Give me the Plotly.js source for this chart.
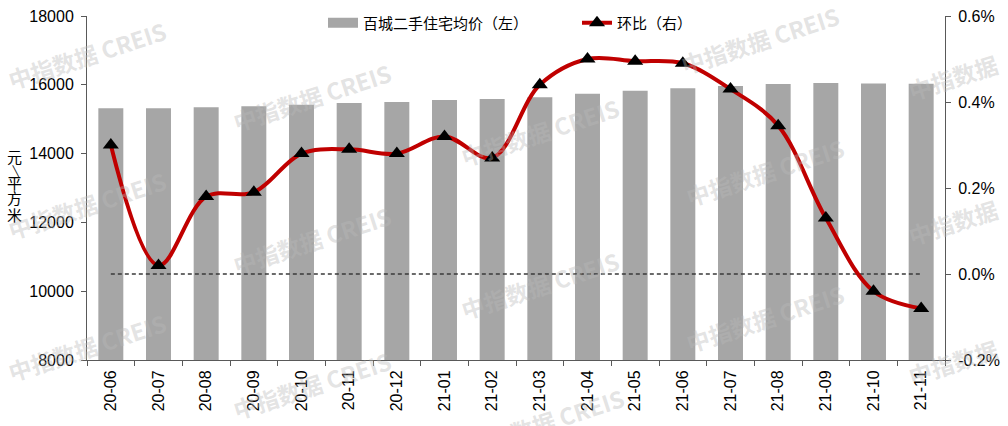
<!DOCTYPE html>
<html>
<head>
<meta charset="utf-8">
<script src="https://cdn.plot.ly/plotly-3.0.1.min.js"></script>
<style>html,body{margin:0;padding:0;background:#fff;}#chart{width:1008px;height:426px;}</style>
</head>
<body>
<div id="chart"></div>
<script>
// ---- data ----
var categories = ['20-06','20-07','20-08','20-09','20-10','20-11','20-12','21-01','21-02','21-03','21-04','21-05','21-06','21-07','21-08','21-09','21-10','21-11'];
var avgPrice = [15320,15320,15350,15380,15420,15470,15500,15560,15590,15640,15740,15830,15900,15965,16020,16050,16040,16030];
var momChange = [0.30,0.02,0.18,0.19,0.28,0.29,0.28,0.32,0.27,0.44,0.50,0.495,0.49,0.43,0.345,0.13,-0.04,-0.08];
var zeroRef = [0,0,0,0,0,0,0,0,0,0,0,0,0,0,0,0,0,0];
var barName = '百城二手住宅均价（左）';
var lineName = '环比（右）';
var leftTicks = [8000,10000,12000,14000,16000,18000];
var leftTickText = ['8000','10000','12000','14000','16000','18000'];
var rightTicks = [-0.2,0,0.2,0.4,0.6];
var rightTickText = ['-0.2%','0.0%','0.2%','0.4%','0.6%'];
var yTitleChars = ['元','/','平','方','米'];
var watermarkText = '中指数据 CREIS';
var watermarkShort = '中指数据';

// ---- layout helpers ----
var W = 1008, H = 426, mL = 87, mR = 63, mT = 16, mB = 66;
var pw = W - mL - mR, ph = H - mT - mB;
function px(x){ return (x - mL) / pw; }
function py(y){ return (H - mB - y) / ph; }

var latin = 'Liberation Sans, Arial, sans-serif';
var cjk = 'Noto Sans CJK SC, sans-serif';

var traces = [
  {
    type: 'bar', x: categories, y: avgPrice, name: barName,
    marker: {color: '#a6a6a6'}, showlegend: false, hoverinfo: 'x+y'
  },
  {
    type: 'scatter', mode: 'lines', x: [categories[0]], y: [null], name: barName,
    line: {color: '#a6a6a6', width: 10}, legend: 'legend', showlegend: true
  },
  {
    type: 'scatter', mode: 'lines', x: categories, y: zeroRef, yaxis: 'y2',
    line: {color: '#3a3a3a', width: 1.3, dash: '4px,3px'}, showlegend: false, hoverinfo: 'skip'
  },
  {
    type: 'scatter', mode: 'lines+markers', x: categories, y: momChange, yaxis: 'y2', name: lineName,
    line: {color: '#c00000', width: 4, shape: 'spline', smoothing: 1},
    marker: {symbol: 'triangle-up', size: 14, color: '#000000'},
    legend: 'legend2'
  }
];

var annotations = [];
var yCharPos = [157, 170, 182, 197, 214];
yTitleChars.forEach(function(c, i){
  annotations.push({
    xref: 'paper', yref: 'paper', x: px(14), y: py(yCharPos[i]),
    text: c, showarrow: false, xanchor: 'center', yanchor: 'middle',
    textangle: (c === '/') ? -45 : 0, borderpad: 0,
    font: {family: cjk, size: (c === '/') ? 13 : 15, color: '#000'}
  });
});

var wmPos = [
  [87,55],[87,205],[87,347],
  [312,97],[312,240],[312,385],
  [540,132],[540,285],[545,422],
  [760,40],[765,172],[765,318]
];
wmPos.forEach(function(p){
  annotations.push({
    xref: 'paper', yref: 'paper', x: px(p[0]), y: py(p[1]),
    text: '<b>' + watermarkText + '</b>', showarrow: false,
    xanchor: 'center', yanchor: 'middle', textangle: -18,
    font: {family: cjk, size: 23, color: 'rgba(185,185,185,0.40)'}
  });
});
var wmShortPos = [[953,77],[953,222],[953,362]];
wmShortPos.forEach(function(p){
  annotations.push({
    xref: 'paper', yref: 'paper', x: px(p[0]), y: py(p[1]),
    text: '<b>' + watermarkShort + '</b>', showarrow: false,
    xanchor: 'center', yanchor: 'middle', textangle: -18,
    font: {family: cjk, size: 23, color: 'rgba(185,185,185,0.40)'}
  });
});

var layout = {
  width: W, height: H,
  margin: {l: mL, r: mR, t: mT, b: mB, pad: 0, autoexpand: false},
  paper_bgcolor: '#ffffff', plot_bgcolor: '#ffffff',
  bargap: 0.476,
  showlegend: true,
  xaxis: {
    type: 'category', range: [-0.5, categories.length - 0.5],
    tickson: 'boundaries', ticks: 'outside', ticklen: 5, tickcolor: '#595959',
    tickangle: -90, showline: true, linecolor: '#595959', linewidth: 1,
    showgrid: false, zeroline: false, ticklabelstandoff: 3, automargin: false,
    tickfont: {family: latin, size: 16, color: '#000'}
  },
  yaxis: {
    range: [8000, 18000], tickvals: leftTicks, ticktext: leftTickText,
    ticks: 'outside', ticklen: 5, tickcolor: '#595959',
    showline: true, linecolor: '#595959', linewidth: 1, showgrid: false, zeroline: false,
    ticklabelstandoff: 4, automargin: false,
    tickfont: {family: latin, size: 16, color: '#000'}
  },
  yaxis2: {
    overlaying: 'y', side: 'right', range: [-0.2, 0.6], tickvals: rightTicks, ticktext: rightTickText,
    ticks: 'outside', ticklen: 5, tickcolor: '#595959',
    showline: true, linecolor: '#595959', linewidth: 1, showgrid: false, zeroline: false,
    ticklabelstandoff: 4, automargin: false,
    tickfont: {family: latin, size: 16, color: '#000'}
  },
  legend: {
    orientation: 'h', x: px(323), xanchor: 'left', y: py(23), yanchor: 'middle',
    bgcolor: 'rgba(0,0,0,0)', font: {family: cjk, size: 15, color: '#000'}
  },
  legend2: {
    orientation: 'h', x: px(577), xanchor: 'left', y: py(23), yanchor: 'middle',
    bgcolor: 'rgba(0,0,0,0)', font: {family: cjk, size: 15, color: '#000'}
  },
  annotations: annotations
};

Plotly.newPlot('chart', traces, layout, {displayModeBar: false, staticPlot: true});
</script>
</body>
</html>
